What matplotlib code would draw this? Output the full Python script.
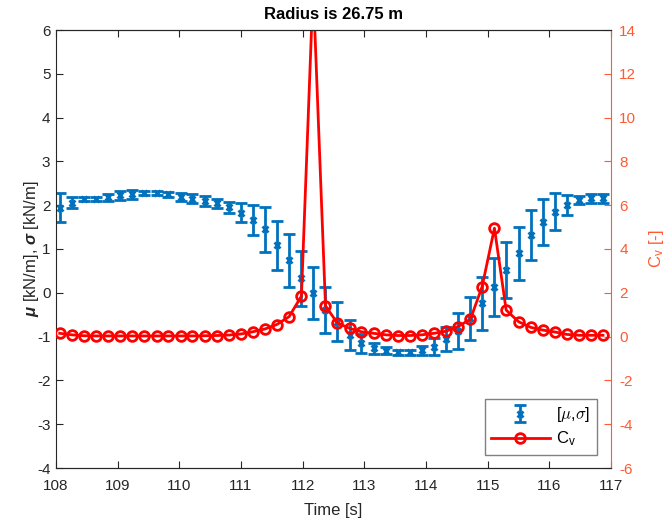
import numpy as np
import matplotlib
matplotlib.use('Agg')
import matplotlib.pyplot as plt

plt.rcParams['font.family'] = ['Liberation Sans', 'DejaVu Sans']
plt.rcParams['mathtext.fontset'] = 'custom'
plt.rcParams['mathtext.it'] = 'Liberation Sans:italic:bold'
plt.rcParams['mathtext.rm'] = 'Liberation Sans'
plt.rcParams['axes.unicode_minus'] = False

# time samples [s]
t = [108.06, 108.26, 108.45, 108.65, 108.84, 109.04, 109.23, 109.43, 109.63, 109.82,
     110.02, 110.21, 110.41, 110.61, 110.80, 111.00, 111.19, 111.39, 111.58, 111.78,
     111.98, 112.17, 112.37, 112.56, 112.76, 112.95, 113.15, 113.35, 113.54, 113.74,
     113.93, 114.13, 114.33, 114.52, 114.72, 114.91, 115.11, 115.30, 115.50, 115.70,
     115.89, 116.09, 116.28, 116.48, 116.67, 116.87]

# mean [kN/m]
mu = [1.94, 2.06, 2.14, 2.14, 2.18, 2.23, 2.25, 2.28, 2.28, 2.25,
      2.19, 2.15, 2.10, 2.04, 1.95, 1.83, 1.66, 1.45, 1.08, 0.74,
      0.33, -0.01, -0.39, -0.66, -0.96, -1.15, -1.27, -1.32, -1.36, -1.36,
      -1.31, -1.23, -1.06, -0.87, -0.58, -0.24, 0.14, 0.52, 0.90, 1.32,
      1.62, 1.85, 2.00, 2.12, 2.16, 2.16]

# standard deviation [kN/m]
sigma = [0.33, 0.13, 0.05, 0.05, 0.08, 0.10, 0.10, 0.05, 0.05, 0.06,
         0.09, 0.11, 0.11, 0.11, 0.13, 0.21, 0.35, 0.51, 0.57, 0.61,
         0.62, 0.59, 0.53, 0.44, 0.34, 0.22, 0.13, 0.08, 0.05, 0.05,
         0.10, 0.19, 0.27, 0.42, 0.49, 0.60, 0.66, 0.63, 0.60, 0.58,
         0.52, 0.42, 0.23, 0.10, 0.10, 0.10]

# coefficient of variation [-]
cv = [0.15, 0.08, 0.04, 0.03, 0.03, 0.03, 0.03, 0.03, 0.03, 0.03,
      0.03, 0.03, 0.04, 0.05, 0.07, 0.12, 0.22, 0.35, 0.55, 0.91,
      1.85, 16.0, 1.40, 0.63, 0.38, 0.22, 0.15, 0.08, 0.05, 0.05,
      0.08, 0.15, 0.25, 0.46, 0.79, 2.28, 4.95, 1.21, 0.68, 0.42,
      0.30, 0.21, 0.10, 0.06, 0.06, 0.06]

blue = '#0072BD'
orange = '#FF5A32'
dark = '#262626'

fig = plt.figure(figsize=(6.68, 5.28), dpi=100)
ax = fig.add_axes([56/668, 60/528, 555/668, 438/528])
ax2 = ax.twinx()

eb = ax.errorbar(t, mu, yerr=sigma, fmt='x', color=blue, ecolor=blue,
                 elinewidth=2, capsize=4, capthick=2, markersize=4, mew=2)
ln, = ax2.plot(t, cv, '-o', color='red', lw=2, ms=7, mfc='none', mew=2)

ax.set_xlim(108, 117)
ax.set_ylim(-4, 6)
ax2.set_ylim(-6, 14)
ax.set_xticks(np.arange(108, 118, 1))
ax.set_yticks(np.arange(-4, 7, 1))
ax2.set_yticks(np.arange(-6, 15, 2))

ax.tick_params(axis='x', direction='in', top=True, length=5, colors=dark, labelsize=11, pad=8)
ax.tick_params(axis='y', direction='in', length=5, colors=dark, labelsize=11, pad=4)
ax2.tick_params(axis='y', direction='in', length=5, colors=orange, labelsize=11, pad=6)

for s in ['left', 'top', 'bottom']:
    ax.spines[s].set_color(dark)
    ax2.spines[s].set_color(dark)
ax2.spines['right'].set_color(orange)
ax.spines['right'].set_visible(False)
ax2.spines['left'].set_visible(False)

ax.set_xlabel('Time [s]', fontsize=12, color=dark, labelpad=7)
ax.set_ylabel(r'$\mu$ [kN/m], $\sigma$ [kN/m]', fontsize=12, color=dark, labelpad=-3)
ax2.set_ylabel(r'C$_\mathregular{v}$ [-]', fontsize=12, color=orange, labelpad=8)
ax.set_title('Radius is 26.75 m', fontsize=12, fontweight='bold', pad=8)

leg = ax2.legend([eb, ln], [r'[$\mu$,$\sigma$]', r'C$_\mathregular{v}$'],
                 loc='lower right', bbox_to_anchor=(0.975, 0.03), borderaxespad=0,
                 fancybox=False, framealpha=1, edgecolor='#808080', fontsize=12,
                 handlelength=3.5, handletextpad=0.4, borderpad=0.4, labelspacing=0.3)
leg.get_frame().set_linewidth(1)
leg.get_texts()[0].set_math_fontfamily('cm')

fig.savefig('out.png', dpi=100)
